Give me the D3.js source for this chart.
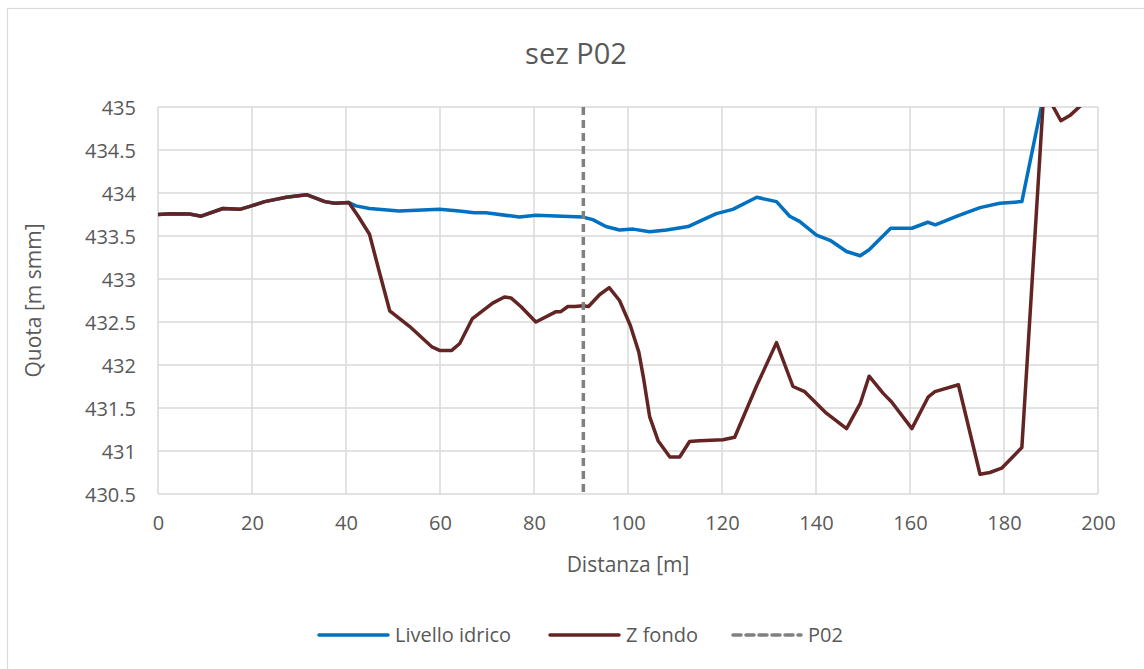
<!DOCTYPE html>
<html>
<head>
<meta charset="utf-8">
<script src="https://cdn.jsdelivr.net/npm/d3@7"></script>
<style>
  html, body { margin: 0; padding: 0; background: #fff; }
  svg { display: block; font-family: "Open Sans", "Noto Sans", sans-serif; }
</style>
</head>
<body>
<svg id="chart" width="1144" height="669"></svg>
<script>
// Water level along the section (distance [m], elevation [m smm])
const livelloX = [0, 2.8, 6.7, 9.2, 13.8, 17.4, 19.9, 22.7, 27.3, 31.6, 35.5, 37.6, 40.6, 42.1, 45.0, 51.3, 59.9, 64.1, 67.3, 69.8, 76.9, 80.4, 86.1, 90.4, 92.5, 95.3, 98.2, 101.1, 104.6, 108.2, 112.8, 116.0, 118.8, 122.3, 127.4, 131.6, 134.4, 136.5, 140.1, 143.0, 146.5, 149.4, 151.3, 155.9, 160.4, 163.8, 165.4, 170.0, 174.9, 179.1, 183.8, 188.5, 190.0];
const livelloY = [433.75, 433.76, 433.755, 433.73, 433.82, 433.81, 433.85, 433.90, 433.95, 433.98, 433.90, 433.88, 433.89, 433.85, 433.82, 433.79, 433.81, 433.79, 433.77, 433.77, 433.72, 433.74, 433.73, 433.72, 433.69, 433.61, 433.57, 433.58, 433.55, 433.57, 433.61, 433.69, 433.76, 433.81, 433.95, 433.90, 433.73, 433.67, 433.51, 433.45, 433.32, 433.27, 433.34, 433.59, 433.59, 433.66, 433.63, 433.73, 433.83, 433.88, 433.90, 435.15, 435.55];

// Bed elevation along the section
const fondoX = [0, 2.8, 6.7, 9.2, 13.8, 17.4, 19.9, 22.7, 27.3, 31.6, 35.5, 37.6, 40.6, 42.6, 45.0, 47.3, 49.3, 53.5, 58.3, 59.9, 62.5, 64.2, 66.9, 71.2, 73.7, 75.1, 77.2, 80.4, 84.7, 85.7, 87.2, 88.7, 90.4, 91.6, 94.0, 96.0, 98.2, 100.5, 102.3, 103.3, 104.6, 106.4, 108.9, 111.0, 113.1, 115.2, 120.2, 122.7, 127.3, 131.6, 135.1, 137.6, 142.2, 146.5, 149.4, 151.3, 154.3, 156.1, 160.4, 163.9, 165.3, 170.3, 174.9, 177.0, 179.5, 183.8, 188.5, 192.1, 194.0, 198.0];
const fondoY = [433.75, 433.76, 433.755, 433.73, 433.82, 433.81, 433.85, 433.90, 433.95, 433.98, 433.90, 433.88, 433.89, 433.73, 433.52, 433.04, 432.63, 432.45, 432.21, 432.17, 432.17, 432.25, 432.54, 432.72, 432.79, 432.78, 432.68, 432.50, 432.62, 432.62, 432.68, 432.68, 432.69, 432.68, 432.82, 432.90, 432.75, 432.46, 432.15, 431.85, 431.40, 431.12, 430.93, 430.93, 431.11, 431.12, 431.13, 431.16, 431.75, 432.26, 431.75, 431.69, 431.44, 431.26, 431.55, 431.87, 431.67, 431.57, 431.26, 431.63, 431.69, 431.77, 430.73, 430.75, 430.80, 431.04, 435.20, 434.84, 434.90, 435.10];

// Section marker position
const sezioneX = [90.5];

const xTicks = [0, 20, 40, 60, 80, 100, 120, 140, 160, 180, 200];
const yTicks = [430.5, 431, 431.5, 432, 432.5, 433, 433.5, 434, 434.5, 435];

const seriesNames = ["Livello idrico", "Z fondo", "P02"];
const seriesColors = ["#0070C0", "#632523", "#808080"];

const svg = d3.select("#chart");
const W = 1144, H = 669;
const plot = { left: 158, right: 1098, top: 107, bottom: 494 };

const x = d3.scaleLinear().domain([0, 200]).range([plot.left, plot.right]);
const y = d3.scaleLinear().domain([430.5, 435]).range([plot.bottom, plot.top]);

const textColor = "#595959";
const gridColor = "#d9d9d9";

// Outer chart frame
svg.append("rect")
  .attr("x", 7.5).attr("y", 8.5)
  .attr("width", W + 10).attr("height", H + 10)
  .attr("fill", "#fff").attr("stroke", "#d9d9d9").attr("stroke-width", 1.2);

// Title
svg.append("text")
  .attr("x", (plot.left + plot.right) / 2 - 52).attr("y", 64)
  .attr("text-anchor", "middle")
  .attr("font-size", 29).attr("fill", textColor)
  .text("sez P02");

// Grid
const grid = svg.append("g");
grid.selectAll("line.h").data(yTicks).join("line")
  .attr("class", "h")
  .attr("x1", plot.left).attr("x2", plot.right)
  .attr("y1", d => y(d)).attr("y2", d => y(d))
  .attr("stroke", gridColor).attr("stroke-width", 1.5);
grid.selectAll("line.v").data(xTicks).join("line")
  .attr("class", "v")
  .attr("y1", plot.top).attr("y2", plot.bottom)
  .attr("x1", d => x(d)).attr("x2", d => x(d))
  .attr("stroke", gridColor).attr("stroke-width", 1.5);

// Axes (labels only, Excel-style)
const xAxis = d3.axisBottom(x).tickValues(xTicks).tickSize(0).tickPadding(22).tickFormat(d3.format("d"));
const yAxis = d3.axisLeft(y).tickValues(yTicks).tickSize(0).tickPadding(22).tickFormat(d => String(d));

const gx = svg.append("g").attr("transform", `translate(0,${plot.bottom})`).call(xAxis);
const gy = svg.append("g").attr("transform", `translate(${plot.left},0)`).call(yAxis);
[gx, gy].forEach(g => {
  g.select(".domain").remove();
  g.selectAll("text").attr("font-size", 20).attr("fill", textColor)
    .attr("font-family", "'Open Sans', 'Noto Sans', sans-serif");
});
gy.selectAll("text").attr("dy", "0.36em");

// Axis titles
svg.append("text")
  .attr("x", (plot.left + plot.right) / 2).attr("y", 572)
  .attr("text-anchor", "middle")
  .attr("font-size", 21).attr("fill", textColor)
  .text("Distanza [m]");
svg.append("text")
  .attr("transform", `translate(41,${(plot.top + plot.bottom) / 2}) rotate(-90)`)
  .attr("text-anchor", "middle")
  .attr("font-size", 21).attr("fill", textColor)
  .text("Quota [m smm]");

// Clip lines to plot area
svg.append("clipPath").attr("id", "plotClip")
  .append("rect")
  .attr("x", plot.left).attr("y", plot.top)
  .attr("width", plot.right - plot.left).attr("height", plot.bottom - plot.top);

const lines = svg.append("g").attr("clip-path", "url(#plotClip)");
const lineGen = d3.line().x(d => x(d[0])).y(d => y(d[1]));

const livello = livelloX.map((d, i) => [d, livelloY[i]]);
const fondo = fondoX.map((d, i) => [d, fondoY[i]]);

lines.append("path")
  .datum(livello)
  .attr("d", lineGen)
  .attr("fill", "none").attr("stroke", seriesColors[0])
  .attr("stroke-width", 3.5).attr("stroke-linejoin", "round").attr("stroke-linecap", "round");

lines.append("path")
  .datum(fondo)
  .attr("d", lineGen)
  .attr("fill", "none").attr("stroke", seriesColors[1])
  .attr("stroke-width", 3.5).attr("stroke-linejoin", "round").attr("stroke-linecap", "round");

lines.selectAll("line.sez").data(sezioneX).join("line")
  .attr("class", "sez")
  .attr("x1", d => x(d)).attr("x2", d => x(d))
  .attr("y1", y(435)).attr("y2", y(430.5))
  .attr("stroke", seriesColors[2]).attr("stroke-width", 3.5)
  .attr("stroke-dasharray", "8,5");

// Legend
const legendItems = [
  { name: seriesNames[0], color: seriesColors[0], dash: null, x1: 319, x2: 388, tx: 395 },
  { name: seriesNames[1], color: seriesColors[1], dash: null, x1: 550, x2: 619, tx: 626 },
  { name: seriesNames[2], color: seriesColors[2], dash: "8,5", x1: 733, x2: 801, tx: 808 }
];
const legend = svg.append("g");
legend.selectAll("line").data(legendItems).join("line")
  .attr("x1", d => d.x1).attr("x2", d => d.x2)
  .attr("y1", 635).attr("y2", 635)
  .attr("stroke", d => d.color).attr("stroke-width", 3.5)
  .attr("stroke-linecap", "round")
  .attr("stroke-dasharray", d => d.dash);
legend.selectAll("text").data(legendItems).join("text")
  .attr("x", d => d.tx).attr("y", 642)
  .attr("font-size", 20).attr("fill", textColor)
  .text(d => d.name);
</script>
</body>
</html>
